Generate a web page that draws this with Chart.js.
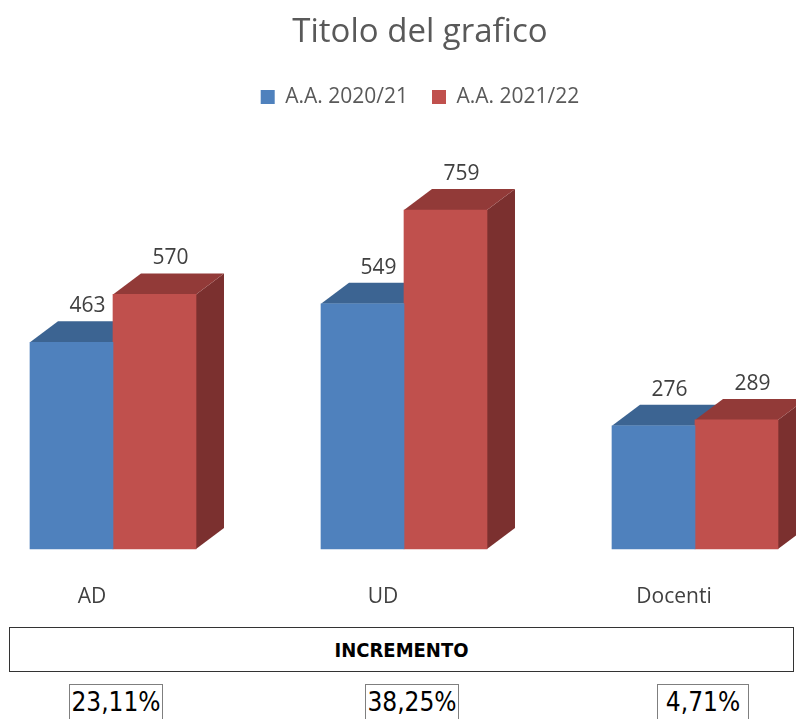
<!DOCTYPE html>
<html lang="it">
<head>
  <meta charset="UTF-8">
  <title>Titolo del grafico</title>
  <script src="https://cdn.jsdelivr.net/npm/chart.js"></script>
  <style>
    body { margin: 0; background: #fff; width: 796px; height: 719px; overflow: hidden; position: relative; }
    #wrap { position: absolute; left: 0; top: 0; width: 796px; height: 620px; }
    .incremento {
      position: absolute; left: 9px; top: 627px; width: 783px; height: 43px;
      border: 1px solid #333; display: flex; align-items: center; justify-content: center;
      font-family: "DejaVu Sans Condensed", "DejaVu Sans", sans-serif; font-weight: bold; font-size: 20px; color: #000;
    }
    .perc {
      position: absolute; top: 684px; height: 40px; border: 1px solid #7f7f7f; border-bottom: none;
      font-family: "DejaVu Sans Condensed", "DejaVu Sans", sans-serif; font-size: 26px; color: #000;
      display: flex; align-items: center; justify-content: center; box-sizing: border-box; padding-bottom: 6px;
    }
  </style>
</head>
<body>
  <div id="wrap"><canvas id="chart" width="796" height="620"></canvas></div>

  <div class="incremento">INCREMENTO</div>
  <div class="perc" style="left:69px; width:94px;">23,11%</div>
  <div class="perc" style="left:365px; width:94px;">38,25%</div>
  <div class="perc" style="left:657px; width:92px;">4,71%</div>

  <script>
    // categorie e valori
    const categorie = ["AD", "UD", "Docenti"];
    const serie2021 = [463, 549, 276];
    const serie2122 = [570, 759, 289];
    const etichetteSerie = ["A.A. 2020/21", "A.A. 2021/22"];

    // colori: fronte, tetto, lato
    const colori = [
      { front: "#4f81bd", top: "#3c6492", side: "#335680" },
      { front: "#c0504d", top: "#923a38", side: "#7b302f" }
    ];

    const DX = 28, DY = 21; // profondita' effetto 3D

    // punti {x: indice categoria, y: valore}
    const punti = serie => serie.map((v, i) => ({ x: i, y: v }));

    const plugin3d = {
      id: 'plugin3d',
      // tetto e lato di ogni barra, prima delle facce frontali
      beforeDatasetsDraw(chart) {
        const ctx = chart.ctx;
        ctx.save();
        for (let i = 0; i < categorie.length; i++) {
          for (let d = 0; d < chart.data.datasets.length; d++) {
            const bar = chart.getDatasetMeta(d).data[i];
            const left = bar.x - bar.width / 2, right = bar.x + bar.width / 2;
            const top = bar.y, base = bar.base;
            ctx.fillStyle = colori[d].side;
            ctx.beginPath();
            ctx.moveTo(right, top);
            ctx.lineTo(right + DX, top - DY);
            ctx.lineTo(right + DX, base - DY);
            ctx.lineTo(right, base);
            ctx.closePath();
            ctx.fill();
            ctx.fillStyle = colori[d].top;
            ctx.beginPath();
            ctx.moveTo(left, top);
            ctx.lineTo(right, top);
            ctx.lineTo(right + DX, top - DY);
            ctx.lineTo(left + DX, top - DY);
            ctx.closePath();
            ctx.fill();
          }
        }
        ctx.restore();
      },
      afterDatasetsDraw(chart) {
        const ctx = chart.ctx;
        ctx.save();
        ctx.font = '21px "Open Sans"';
        ctx.fillStyle = '#404040';
        ctx.textAlign = 'center';
        ctx.textBaseline = 'middle';
        chart.data.datasets.forEach((ds, d) => {
          chart.getDatasetMeta(d).data.forEach((bar, i) => {
            ctx.fillText(ds.data[i].y, bar.x + 16, bar.y - DY - 15);
          });
        });
        // etichette categorie
        const xs = chart.scales.x;
        categorie.forEach((c, i) => {
          ctx.fillText(c, xs.getPixelForValue(i) - 21, 597);
        });
        ctx.restore();
      }
    };

    new Chart(document.getElementById('chart'), {
      type: 'bar',
      data: {
        datasets: [
          { label: etichetteSerie[0], data: punti(serie2021), backgroundColor: colori[0].front, clip: false },
          { label: etichetteSerie[1], data: punti(serie2122), backgroundColor: colori[1].front, clip: false }
        ]
      },
      options: {
        responsive: false,
        animation: false,
        barThickness: 83,
        layout: { padding: { left: 44, right: 0, top: 0, bottom: 71 } },
        plugins: {
          title: {
            display: true,
            text: 'Titolo del grafico',
            color: '#595959',
            font: { family: 'Open Sans', size: 33, weight: 'normal' },
            padding: { top: 13, bottom: 10 }
          },
          legend: {
            position: 'top',
            labels: {
              color: '#595959',
              font: { family: 'Open Sans', size: 21 },
              boxWidth: 14, boxHeight: 14,
              padding: 24
            }
          },
          tooltip: { enabled: false }
        },
        scales: {
          x: { type: 'linear', display: false, offset: false, min: -0.2371, max: 2.3471 },
          y: { display: false, min: 0, max: 966 }
        }
      },
      plugins: [plugin3d]
    });
  </script>
</body>
</html>
